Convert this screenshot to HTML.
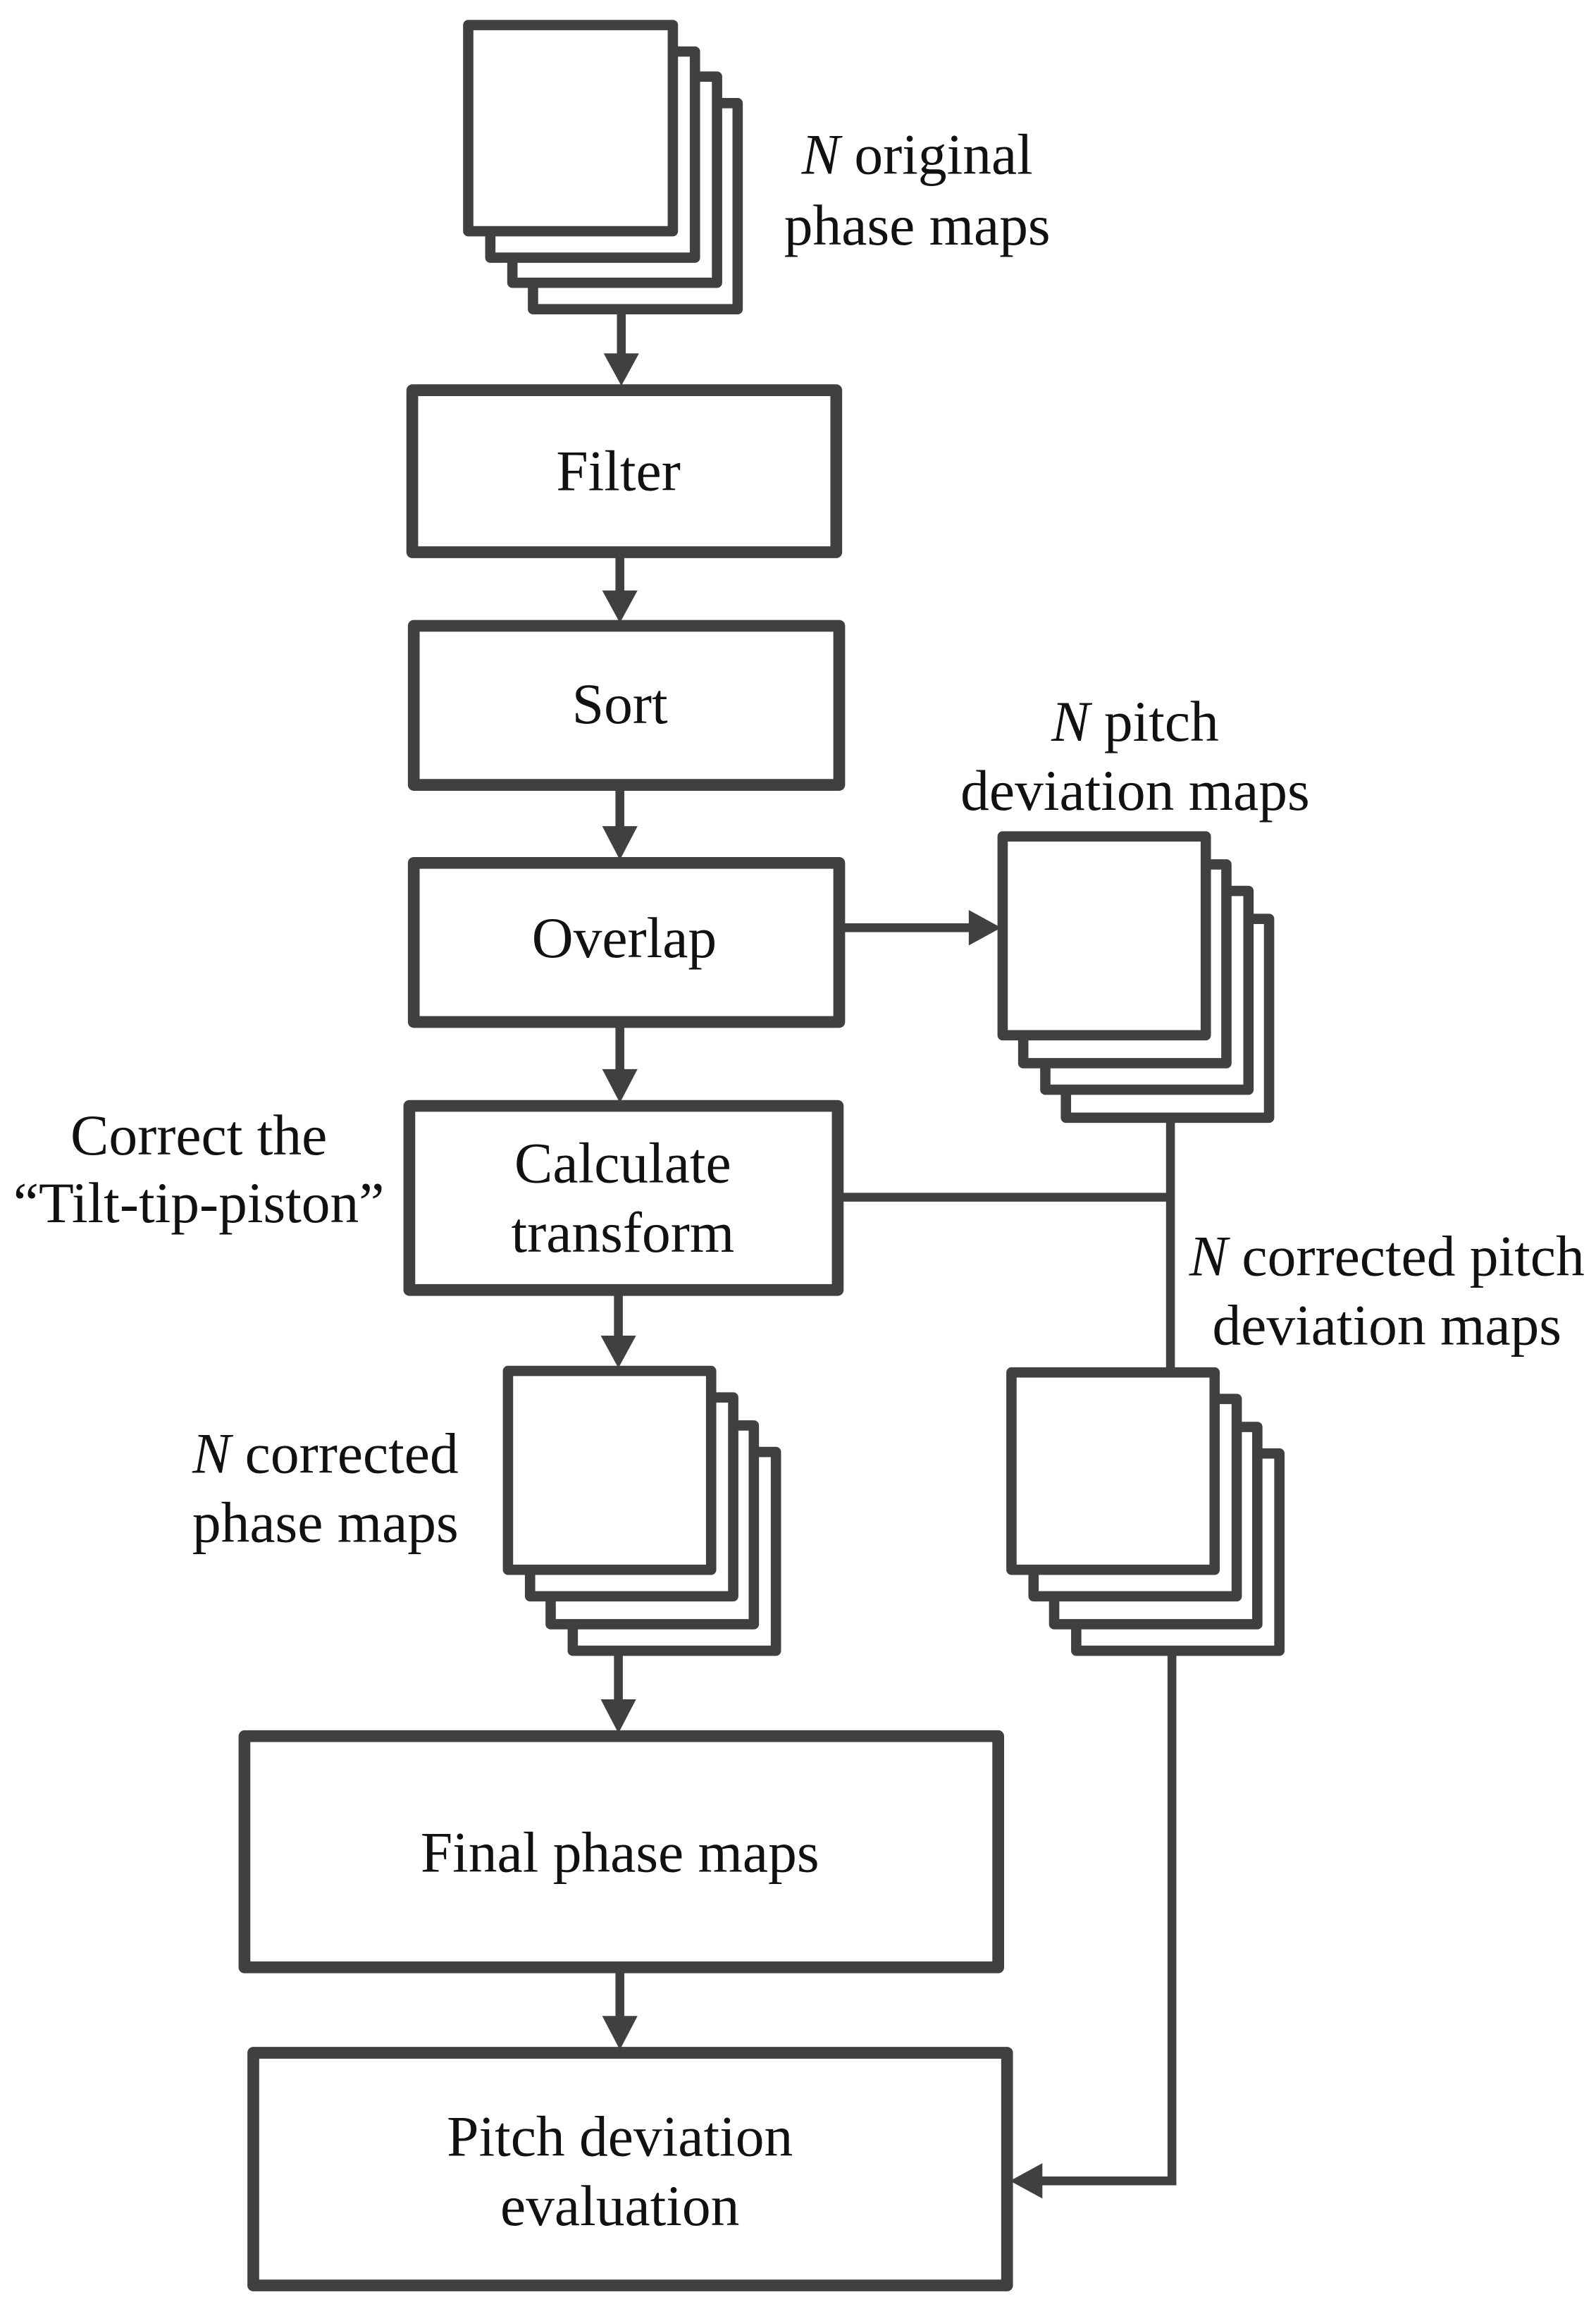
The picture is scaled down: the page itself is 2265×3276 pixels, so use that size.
<!DOCTYPE html>
<html><head><meta charset="utf-8"><style>
html,body{margin:0;padding:0;background:#fff;}
svg{display:block;}
text{font-family:"Liberation Serif",serif;font-size:39px;fill:#111;text-anchor:middle;}
</style></head><body>
<svg width="2265" height="3276" viewBox="0 0 1084 1568" xmlns="http://www.w3.org/2000/svg">
<g fill="#fff" stroke="#404040" stroke-width="7" stroke-linejoin="round">
<rect x="362" y="70" width="139" height="140"/>
<rect x="348" y="52" width="139" height="140"/>
<rect x="333" y="35" width="139" height="140"/>
<rect x="318" y="17" width="139" height="140"/>
<rect x="724" y="624" width="138" height="135"/>
<rect x="710" y="605" width="138" height="135"/>
<rect x="695" y="587" width="138" height="135"/>
<rect x="681" y="568" width="138" height="135"/>
<rect x="731" y="987" width="138" height="134"/>
<rect x="716" y="969" width="138" height="134"/>
<rect x="702" y="950" width="138" height="134"/>
<rect x="687" y="932" width="138" height="134"/>
<rect x="389" y="986" width="138" height="135"/>
<rect x="374" y="968" width="138" height="135"/>
<rect x="360" y="949" width="138" height="135"/>
<rect x="345" y="931" width="138" height="135"/>
</g>
<g fill="#fff" stroke="#404040" stroke-width="8" stroke-linejoin="round">
<rect x="280" y="265" width="288" height="110"/>
<rect x="281" y="425" width="289" height="108"/>
<rect x="281" y="586" width="289" height="108"/>
<rect x="278" y="751" width="291" height="125"/>
<rect x="166" y="1179" width="512" height="157"/>
<rect x="172" y="1394" width="512" height="158"/>
</g>
<g stroke="#404040" stroke-width="6" fill="none">
<line x1="422" y1="210" x2="422" y2="244"/>
<line x1="421" y1="375" x2="421" y2="404"/>
<line x1="421" y1="533" x2="421" y2="565"/>
<line x1="421" y1="694" x2="421" y2="730"/>
<line x1="420" y1="876" x2="420" y2="911"/>
<line x1="420" y1="1121" x2="420" y2="1158"/>
<line x1="421" y1="1336" x2="421" y2="1373"/>
<line x1="570" y1="630" x2="662" y2="630"/>
<polyline points="570,813 795,813"/>
<line x1="795" y1="759" x2="795" y2="932"/>
<polyline points="796,1121 796,1481 705,1481"/>
</g>
<g fill="#404040">
<path d="M410,240 L434,240 L422,262 Z"/>
<path d="M409,401 L433,401 L421,423 Z"/>
<path d="M409,561 L433,561 L421,584 Z"/>
<path d="M409,726 L433,726 L421,749 Z"/>
<path d="M408,907 L432,907 L420,929 Z"/>
<path d="M408,1154 L432,1154 L420,1177 Z"/>
<path d="M409,1369 L433,1369 L421,1392 Z"/>
<path d="M658,618 L658,642 L680,630 Z"/>
<path d="M708,1469 L708,1493 L686,1481 Z"/>
</g>
<text x="623" y="118"><tspan font-style="italic">N</tspan> original</text>
<text x="623" y="166">phase maps</text>
<text x="771" y="503"><tspan font-style="italic">N</tspan> pitch</text>
<text x="771" y="550">deviation maps</text>
<text x="135" y="784">Correct the</text>
<text x="135" y="830">“Tilt-tip-piston”</text>
<text x="942" y="866"><tspan font-style="italic">N</tspan> corrected pitch</text>
<text x="942" y="913">deviation maps</text>
<text x="221" y="1000"><tspan font-style="italic">N</tspan> corrected</text>
<text x="221" y="1047">phase maps</text>
<text x="420" y="333">Filter</text>
<text x="421" y="491">Sort</text>
<text x="424" y="650">Overlap</text>
<text x="423" y="803">Calculate</text>
<text x="423" y="850">transform</text>
<text x="421" y="1271">Final phase maps</text>
<text x="421" y="1464">Pitch deviation</text>
<text x="421" y="1511">evaluation</text>
</svg>
</body></html>
